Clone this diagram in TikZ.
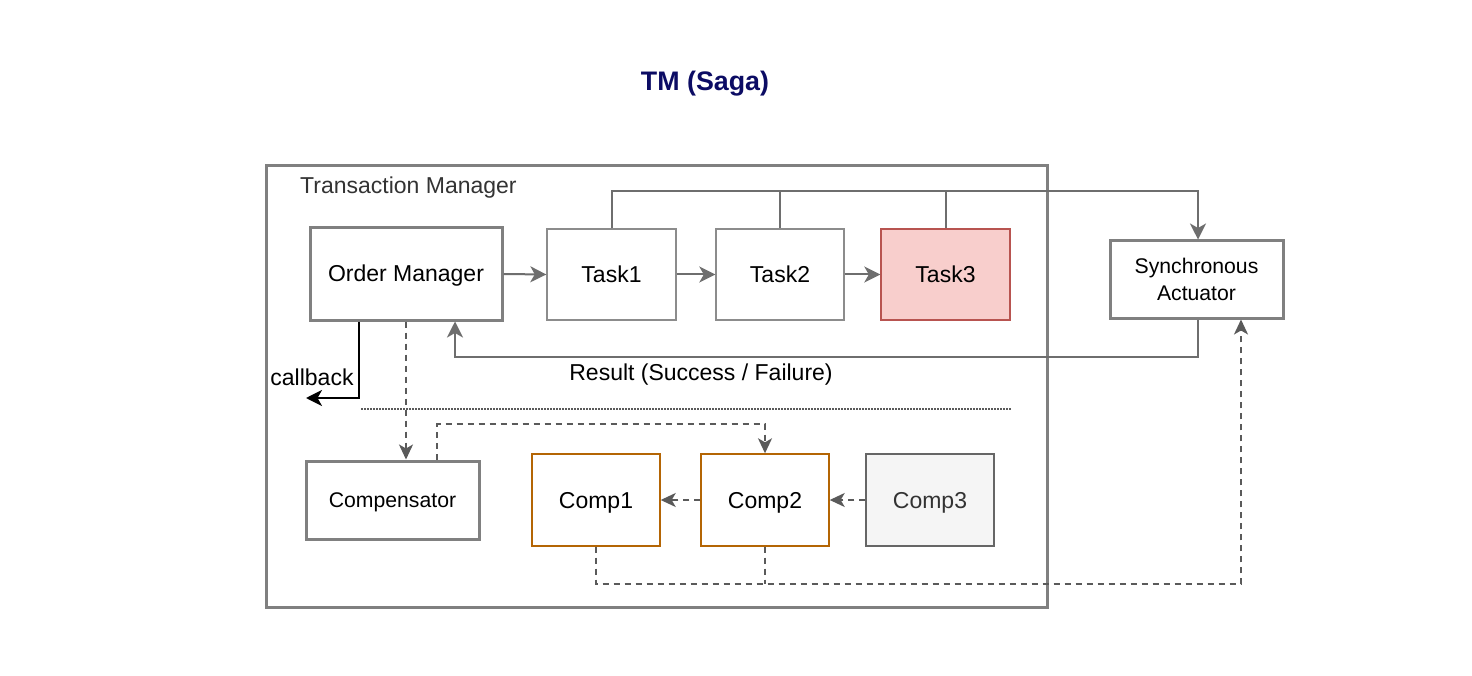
\documentclass[tikz,border=0pt]{standalone}
\usepackage{fontspec}
\setmainfont{Liberation Sans}
\usetikzlibrary{arrows.meta,calc}
\definecolor{boxgray}{HTML}{808080}
\definecolor{thingray}{HTML}{8C8C8C}
\definecolor{conngray}{HTML}{6E6E6E}
\definecolor{dashgray}{HTML}{5A5A5A}
\definecolor{redfill}{HTML}{F8CECC}
\definecolor{redline}{HTML}{B85450}
\definecolor{brownline}{HTML}{B46504}
\definecolor{lightfill}{HTML}{F5F5F5}
\definecolor{darkline}{HTML}{666666}
\definecolor{titleblue}{RGB}{12,12,100}
\definecolor{labgray}{HTML}{333333}
\tikzset{
  x=1pt, y=-1pt,
  basefont/.style={font=\fontsize{23}{27}\selectfont, text height=16pt, text depth=0pt},
  smallfont/.style={font=\fontsize{21.2}{27}\selectfont, text height=15pt, text depth=0pt},
  thickbox/.style={draw=boxgray, line width=3pt, fill=white, basefont, align=center, inner sep=0pt},
  thinbox/.style={draw=thingray, line width=1.4pt, fill=white, basefont, inner sep=0pt},
  redbox/.style={draw=redline, line width=1.4pt, fill=redfill, basefont, inner sep=0pt},
  brownbox/.style={draw=brownline, line width=1.4pt, fill=white, basefont, inner sep=0pt},
  greybox/.style={draw=darkline, line width=1.4pt, fill=lightfill, text=labgray, basefont, inner sep=0pt},
  tip/.style={-{Stealth[length=16pt,width=16pt,inset=4.5pt]}},
  dtip/.style={-{Stealth[length=15pt,width=14pt,inset=4pt]}},
  conn/.style={draw=conngray, line width=2pt},
  dconn/.style={draw=dashgray, line width=1.6pt, dash pattern=on 6pt off 5pt},
}
\begin{document}
\begin{tikzpicture}
\useasboundingbox[fill=white] (0,0) rectangle (1472,676);

% title
\node[text=titleblue, font=\bfseries\fontsize{26.8}{30}\selectfont, text height=19pt, text depth=0pt, inner sep=0pt] (title) at (705,81) {TM (Saga)};

% container
\node[draw=boxgray, line width=3pt, minimum width=781pt, minimum height=441pt, inner sep=0pt] (tm) at (656.5,386.5) {};
\node[anchor=west, text=labgray, basefont, inner sep=0pt] (tmlabel) at (300,186) {Transaction Manager};

% top row
\node[thickbox, minimum width=192pt, minimum height=92pt] (om) at (406,274) {Order Manager};
\node[thinbox, minimum width=129pt, minimum height=91pt] (t1) at (611.5,274.5) {Task1};
\node[thinbox, minimum width=128pt, minimum height=91pt] (t2) at (780,274.5) {Task2};
\node[redbox, minimum width=129pt, minimum height=91pt] (t3) at (945.5,274.5) {Task3};
\node[thickbox, smallfont, text height=42pt, text depth=0pt, minimum width=173pt, minimum height=77pt] (sa) at (1196.5,279.5) {Synchronous\\Actuator};

% bottom row
\node[thickbox, smallfont, minimum width=173pt, minimum height=78pt] (cmp) at (392.5,500) {Compensator};
\node[brownbox, minimum width=128pt, minimum height=92pt] (c1) at (596,500) {Comp1};
\node[brownbox, minimum width=128pt, minimum height=92pt] (c2) at (765,500) {Comp2};
\node[greybox, minimum width=128pt, minimum height=92pt] (c3) at (930,500) {Comp3};

% helper coordinates
\coordinate (topy) at (0,191);
\coordinate (resy) at (0,357);
\coordinate (boty) at (0,584);
\coordinate (midy) at (0,424);
\coordinate (cb) at (306,398);

% chain arrows
\draw[conn,tip] (om.east) -- (t1.west);
\draw[conn,tip] (t1.east) -- (t2.west);
\draw[conn,tip] (t2.east) -- (t3.west);

% to synchronous actuator
\draw[conn,tip] (t1.north) -- (t1.north |- topy) -- ([xshift=1.5pt]sa.north |- topy) -- ([xshift=1.5pt]sa.north);
\draw[conn] (t2.north) -- (t2.north |- topy);
\draw[conn] (t3.north) -- (t3.north |- topy);

% result
\draw[conn,tip] ([xshift=1.5pt]sa.south) -- ([xshift=1.5pt]sa.south |- resy) -- ([xshift=49pt]om.south |- resy) -- ([xshift=49pt]om.south);
\node[basefont, inner sep=0pt] (reslabel) at (701,372) {Result (Success / Failure)};

% callback
\draw[black, line width=2pt, tip] ([xshift=-47pt]om.south) -- ([xshift=-47pt]om.south |- cb) -- (cb);
\node[basefont, inner sep=0pt] (cblabel) at (312,377) {callback};

% separator
\draw[draw=dashgray, line width=1.3pt, dash pattern=on 1.5pt off 1.5pt] (361,409) -- (1012,409);

% compensation flow
\draw[dconn,dtip] (om.south) -- (om.south |- cmp.north);
\draw[dconn,dtip] ([xshift=44.5pt]cmp.north) -- ([xshift=44.5pt]cmp.north |- midy) -- (c2.north |- midy) -- (c2.north);
\draw[dconn,dtip] (c2.west) -- (c1.east);
\draw[dconn,dtip] (c3.west) -- (c2.east);
\draw[dconn,dtip] (c1.south) -- (c1.south |- boty) -- ([xshift=44.5pt]sa.south |- boty) -- ([xshift=44.5pt]sa.south);
\draw[dconn] (c2.south) -- (c2.south |- boty);
\end{tikzpicture}
\end{document}
